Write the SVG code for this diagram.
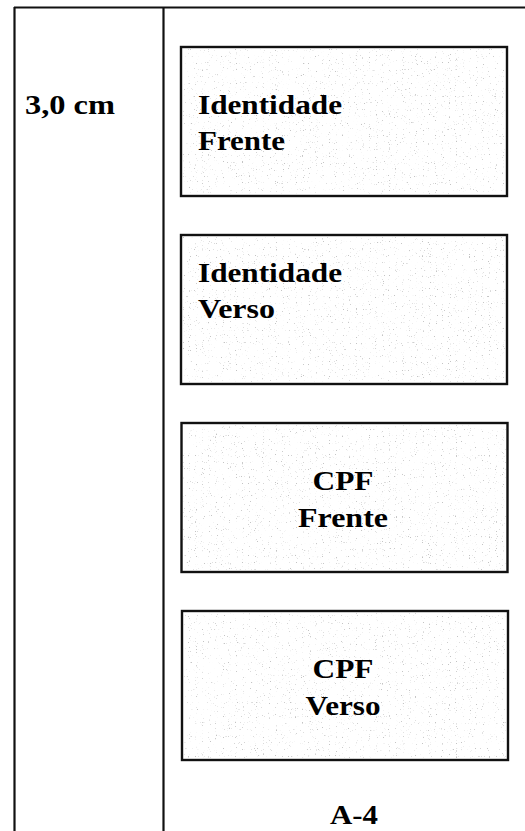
<svg xmlns="http://www.w3.org/2000/svg" width="525" height="831" viewBox="0 0 525 831">
<style>
.line{stroke:#111;stroke-width:2.2;fill:none}
.box{fill:#fff;stroke:#111;stroke-width:2.4}
.lbl{font-family:"Liberation Serif","Times New Roman",serif;font-weight:bold;font-size:28px;fill:#000}
.mid{text-anchor:middle}
</style>
<defs>
<filter id="speckle" x="0" y="0" width="1" height="1" filterUnits="objectBoundingBox">
<feTurbulence type="fractalNoise" baseFrequency="0.85" numOctaves="1" seed="7" result="n"/>
<feColorMatrix in="n" type="matrix" values="0 0 0 0 0.55  0 0 0 0 0.55  0 0 0 0 0.55  10 0 0 0 -6.6"/>
</filter>
</defs>
<rect width="525" height="831" fill="#fff"/>
<g id="frame">
<line class="line" x1="14" y1="7.5" x2="525" y2="7.5"/>
<line class="line" x1="14.5" y1="7" x2="14.5" y2="831"/>
<line class="line" x1="163.5" y1="7" x2="163.5" y2="831"/>
</g>
<g id="label-size">
<text class="lbl" x="25" y="114" textLength="90" lengthAdjust="spacingAndGlyphs">3,0 cm</text>
</g>
<g id="identidade-frente">
<rect class="box" x="181" y="47" width="326" height="149"/>
<rect x="183" y="49" width="322" height="145" fill="#fff" filter="url(#speckle)"/>
<text class="lbl" x="198" y="114" textLength="144" lengthAdjust="spacingAndGlyphs">Identidade</text>
<text class="lbl" x="198" y="150" textLength="87" lengthAdjust="spacingAndGlyphs">Frente</text>
</g>
<g id="identidade-verso">
<rect class="box" x="181" y="235" width="326" height="149"/>
<rect x="183" y="237" width="322" height="145" fill="#fff" filter="url(#speckle)"/>
<text class="lbl" x="198" y="282" textLength="144" lengthAdjust="spacingAndGlyphs">Identidade</text>
<text class="lbl" x="198" y="318" textLength="77" lengthAdjust="spacingAndGlyphs">Verso</text>
</g>
<g id="cpf-frente">
<rect class="box" x="181.5" y="423" width="326" height="149"/>
<rect x="183.5" y="425" width="322" height="145" fill="#fff" filter="url(#speckle)"/>
<text class="lbl mid" x="343" y="490" textLength="61" lengthAdjust="spacingAndGlyphs">CPF</text>
<text class="lbl mid" x="343" y="527" textLength="90" lengthAdjust="spacingAndGlyphs">Frente</text>
</g>
<g id="cpf-verso">
<rect class="box" x="182" y="611" width="326" height="149"/>
<rect x="184" y="613" width="322" height="145" fill="#fff" filter="url(#speckle)"/>
<text class="lbl mid" x="343" y="678" textLength="61" lengthAdjust="spacingAndGlyphs">CPF</text>
<text class="lbl mid" x="343" y="715" textLength="75" lengthAdjust="spacingAndGlyphs">Verso</text>
</g>
<g id="label-a4">
<text class="lbl mid" x="354" y="824" textLength="48" lengthAdjust="spacingAndGlyphs">A-4</text>
</g>
<g id="connectors"></g>
</svg>
